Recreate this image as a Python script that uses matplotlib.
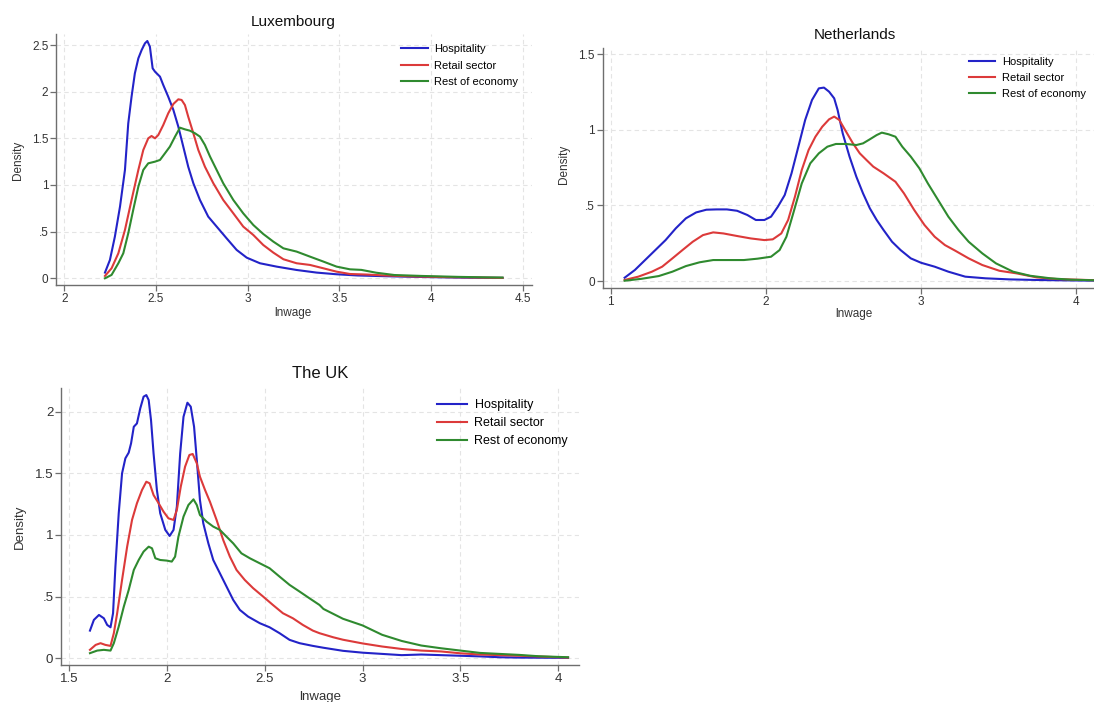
import matplotlib
matplotlib.use("Agg")
import matplotlib.pyplot as plt

plt.rcParams["font.family"] = ["Liberation Sans", "DejaVu Sans"]

# ---- Luxembourg: kernel density of log wage by sector ----
lux_hosp_x = [2.222, 2.249, 2.276, 2.304, 2.331, 2.349, 2.367, 2.385, 2.404, 2.422, 2.440, 2.453,
              2.467, 2.482, 2.495, 2.522, 2.540, 2.567, 2.595, 2.622, 2.649, 2.676, 2.704, 2.740,
              2.785, 2.831, 2.885, 2.940, 2.995, 3.067, 3.158, 3.267, 3.376, 3.485, 3.6, 3.7,
              3.8, 4.0, 4.2, 4.39]
lux_hosp_y = [0.061, 0.196, 0.446, 0.768, 1.161, 1.66, 1.946, 2.196, 2.357, 2.446, 2.518, 2.543,
              2.482, 2.25, 2.214, 2.161, 2.071, 1.946, 1.804, 1.625, 1.411, 1.196, 1.018, 0.839,
              0.661, 0.554, 0.429, 0.304, 0.221, 0.161, 0.125, 0.089, 0.061, 0.043, 0.03, 0.025,
              0.02, 0.012, 0.006, 0.004]
lux_retail_x = [2.222, 2.258, 2.295, 2.331, 2.367, 2.404, 2.431, 2.458, 2.476, 2.495, 2.513, 2.540,
                2.567, 2.595, 2.622, 2.640, 2.658, 2.676, 2.704, 2.731, 2.767, 2.813, 2.867, 2.922,
                2.976, 3.031, 3.085, 3.140, 3.195, 3.267, 3.340, 3.413, 3.485, 3.558, 3.65, 3.75,
                3.9, 4.1, 4.25, 4.39]
lux_retail_y = [0.025, 0.107, 0.268, 0.518, 0.839, 1.161, 1.375, 1.5, 1.525, 1.5, 1.536, 1.643,
                1.768, 1.868, 1.918, 1.911, 1.857, 1.732, 1.554, 1.375, 1.196, 1.018, 0.839, 0.696,
                0.554, 0.464, 0.357, 0.275, 0.204, 0.161, 0.143, 0.107, 0.071, 0.046, 0.04, 0.03,
                0.02, 0.012, 0.008, 0.004]
lux_rest_x = [2.222, 2.258, 2.295, 2.322, 2.349, 2.376, 2.404, 2.431, 2.458, 2.495, 2.522, 2.549,
              2.576, 2.604, 2.631, 2.658, 2.685, 2.713, 2.740, 2.767, 2.795, 2.831, 2.867, 2.922,
              2.976, 3.031, 3.085, 3.140, 3.195, 3.267, 3.340, 3.413, 3.485, 3.558, 3.62, 3.7,
              3.8, 3.95, 4.15, 4.3, 4.39]
lux_rest_y = [0.0, 0.036, 0.161, 0.268, 0.482, 0.732, 0.982, 1.161, 1.232, 1.25, 1.268, 1.339,
              1.411, 1.518, 1.614, 1.596, 1.582, 1.554, 1.518, 1.429, 1.304, 1.161, 1.018, 0.839,
              0.696, 0.571, 0.475, 0.393, 0.321, 0.286, 0.232, 0.179, 0.125, 0.096, 0.09, 0.06,
              0.035, 0.025, 0.015, 0.01, 0.008]

# ---- Netherlands ----
nl_hosp_x = [1.090, 1.156, 1.222, 1.288, 1.354, 1.420, 1.485, 1.551, 1.617, 1.683, 1.749, 1.815,
             1.881, 1.936, 1.991, 2.034, 2.078, 2.122, 2.166, 2.210, 2.254, 2.298, 2.342, 2.375,
             2.408, 2.441, 2.463, 2.496, 2.540, 2.584, 2.627, 2.671, 2.715, 2.759, 2.814, 2.869,
             2.935, 3.001, 3.089, 3.177, 3.286, 3.418, 3.572, 3.748, 3.967, 4.2]
nl_hosp_y = [0.022, 0.073, 0.139, 0.205, 0.271, 0.349, 0.415, 0.454, 0.472, 0.474, 0.474, 0.465,
             0.437, 0.404, 0.404, 0.426, 0.492, 0.569, 0.713, 0.889, 1.066, 1.198, 1.275, 1.28,
             1.253, 1.209, 1.132, 0.977, 0.823, 0.690, 0.580, 0.481, 0.404, 0.338, 0.260, 0.205,
             0.150, 0.121, 0.095, 0.062, 0.029, 0.018, 0.011, 0.007, 0.004, 0.002]
nl_retail_x = [1.090, 1.178, 1.266, 1.332, 1.398, 1.463, 1.529, 1.595, 1.661, 1.727, 1.815, 1.903,
               1.991, 2.045, 2.100, 2.144, 2.188, 2.232, 2.276, 2.320, 2.364, 2.408, 2.441, 2.474,
               2.518, 2.562, 2.606, 2.649, 2.693, 2.759, 2.836, 2.891, 2.957, 3.023, 3.089, 3.155,
               3.221, 3.308, 3.396, 3.506, 3.616, 3.748, 3.879, 4.2]
nl_retail_y = [0.007, 0.029, 0.062, 0.095, 0.150, 0.205, 0.260, 0.304, 0.322, 0.315, 0.298, 0.282,
               0.271, 0.276, 0.315, 0.404, 0.558, 0.735, 0.867, 0.955, 1.021, 1.070, 1.088, 1.066,
               0.988, 0.911, 0.845, 0.801, 0.757, 0.713, 0.657, 0.580, 0.470, 0.371, 0.293, 0.238,
               0.201, 0.150, 0.106, 0.068, 0.051, 0.024, 0.013, 0.003]
nl_rest_x = [1.090, 1.200, 1.310, 1.398, 1.485, 1.573, 1.661, 1.771, 1.859, 1.947, 2.034, 2.089,
             2.133, 2.177, 2.232, 2.287, 2.342, 2.397, 2.452, 2.518, 2.584, 2.627, 2.671, 2.715,
             2.748, 2.792, 2.836, 2.880, 2.935, 2.990, 3.045, 3.111, 3.177, 3.242, 3.308, 3.396,
             3.484, 3.594, 3.704, 3.836, 3.967, 4.2]
nl_rest_y = [0.002, 0.015, 0.033, 0.062, 0.099, 0.124, 0.139, 0.139, 0.139, 0.148, 0.161, 0.205,
             0.293, 0.448, 0.646, 0.779, 0.845, 0.889, 0.907, 0.907, 0.900, 0.911, 0.938, 0.966,
             0.982, 0.971, 0.955, 0.889, 0.823, 0.746, 0.646, 0.536, 0.426, 0.338, 0.260, 0.183,
             0.117, 0.062, 0.035, 0.018, 0.009, 0.003]

# ---- The UK ----
uk_hosp_x = [1.607, 1.627, 1.653, 1.678, 1.695, 1.712, 1.725, 1.737, 1.754, 1.771, 1.788, 1.805,
             1.817, 1.831, 1.847, 1.864, 1.881, 1.895, 1.907, 1.919, 1.932, 1.949, 1.966, 1.992,
             2.014, 2.034, 2.051, 2.068, 2.085, 2.105, 2.122, 2.139, 2.153, 2.169, 2.186, 2.212,
             2.237, 2.271, 2.305, 2.339, 2.373, 2.415, 2.475, 2.525, 2.576, 2.627, 2.678, 2.746,
             2.8, 2.9, 3.0, 3.1, 3.2, 3.3, 3.4, 3.5, 3.6, 3.7, 3.8, 4.05]
uk_hosp_y = [0.224, 0.311, 0.351, 0.324, 0.27, 0.251, 0.365, 0.743, 1.176, 1.5, 1.622, 1.668,
             1.743, 1.878, 1.905, 2.027, 2.122, 2.135, 2.095, 1.932, 1.662, 1.365, 1.176, 1.041,
             0.992, 1.041, 1.23, 1.662, 1.959, 2.073, 2.041, 1.878, 1.608, 1.284, 1.095, 0.932,
             0.797, 0.689, 0.581, 0.473, 0.392, 0.338, 0.284, 0.251, 0.203, 0.149, 0.122, 0.1,
             0.085, 0.06, 0.045, 0.035, 0.025, 0.03, 0.025, 0.02, 0.015, 0.008, 0.005, 0.003]
uk_retail_x = [1.607, 1.636, 1.661, 1.686, 1.712, 1.729, 1.746, 1.771, 1.797, 1.822, 1.847, 1.873,
               1.895, 1.912, 1.932, 1.958, 1.983, 2.008, 2.034, 2.051, 2.071, 2.093, 2.115, 2.132,
               2.153, 2.169, 2.195, 2.220, 2.254, 2.288, 2.322, 2.356, 2.398, 2.441, 2.492, 2.542,
               2.593, 2.644, 2.695, 2.746, 2.780, 2.85, 2.9, 3.0, 3.1, 3.2, 3.3, 3.4, 3.5, 3.6,
               3.8, 4.05]
uk_retail_y = [0.068, 0.108, 0.122, 0.108, 0.1, 0.203, 0.365, 0.635, 0.905, 1.122, 1.257, 1.365,
               1.432, 1.419, 1.324, 1.257, 1.189, 1.135, 1.122, 1.203, 1.392, 1.554, 1.649, 1.657,
               1.581, 1.473, 1.365, 1.27, 1.122, 0.959, 0.824, 0.716, 0.635, 0.568, 0.5, 0.432,
               0.365, 0.324, 0.27, 0.224, 0.203, 0.17, 0.15, 0.12, 0.095, 0.075, 0.062, 0.055,
               0.04, 0.03, 0.02, 0.005]
uk_rest_x = [1.607, 1.644, 1.678, 1.712, 1.729, 1.754, 1.780, 1.805, 1.831, 1.856, 1.881, 1.907,
             1.924, 1.941, 1.966, 2.000, 2.025, 2.042, 2.059, 2.085, 2.110, 2.136, 2.153, 2.169,
             2.203, 2.237, 2.271, 2.305, 2.339, 2.381, 2.424, 2.475, 2.525, 2.576, 2.627, 2.678,
             2.729, 2.780, 2.8, 2.9, 3.0, 3.1, 3.2, 3.3, 3.4, 3.5, 3.6, 3.7, 3.8, 3.9, 4.05]
uk_rest_y = [0.041, 0.062, 0.068, 0.062, 0.122, 0.257, 0.419, 0.554, 0.716, 0.797, 0.865, 0.905,
             0.892, 0.811, 0.797, 0.792, 0.784, 0.824, 0.986, 1.149, 1.243, 1.289, 1.243, 1.162,
             1.108, 1.068, 1.041, 0.986, 0.932, 0.851, 0.811, 0.770, 0.730, 0.662, 0.595, 0.541,
             0.486, 0.432, 0.40, 0.32, 0.266, 0.19, 0.14, 0.103, 0.081, 0.062, 0.043, 0.035,
             0.027, 0.016, 0.008]

SERIES = ["Hospitality", "Retail sector", "Rest of economy"]
COLORS = ["#2323c8", "#dc3a3a", "#2f8a2f"]

W, H = 1094, 702
fig = plt.figure(figsize=(W / 100, H / 100), dpi=100)


def frac(x, y):
    # pixel position (from top-left) -> figure fraction
    return x / W, 1 - y / H


def panel(box, xlim, ylim, xticks, xticklabels, yticks, yticklabels, curves,
          title, title_xy, title_size, ylab_xy, xlab_xy, leg_xy, fsize, leg_size, leg_spacing):
    left, top, right, bottom = box
    ax = fig.add_axes([left / W, 1 - bottom / H, (right - left) / W, (bottom - top) / H])
    for (xs, ys), c, name in zip(curves, COLORS, SERIES):
        ax.plot(xs, ys, color=c, lw=1.5, label=name)
    ax.set_xlim(*xlim)
    ax.set_ylim(*ylim)
    ax.set_xticks(xticks)
    ax.set_xticklabels(xticklabels)
    ax.set_yticks(yticks)
    ax.set_yticklabels(yticklabels)
    for s in ("top", "right"):
        ax.spines[s].set_visible(False)
    for s in ("left", "bottom"):
        ax.spines[s].set_color("#6e6e6e")
        ax.spines[s].set_linewidth(1.0)
    ax.tick_params(length=4, width=0.9, color="#6e6e6e", labelsize=fsize, labelcolor="#333333")
    ax.tick_params(axis="y", pad=1.5)
    ax.tick_params(axis="x", pad=2)
    ax.grid(True, ls=(0, (4, 3)), color="#e4e4e4", lw=0.8)
    ax.set_axisbelow(True)

    fig.text(*frac(*title_xy), title, ha="center", va="center", fontsize=title_size, color="#111111")
    fig.text(*frac(*ylab_xy), "Density", ha="center", va="center", rotation=90,
             fontsize=fsize, color="#333333")
    fig.text(*frac(*xlab_xy), "lnwage", ha="center", va="center", fontsize=fsize, color="#333333")

    ax.legend(loc="upper left", bbox_to_anchor=frac(*leg_xy), bbox_transform=fig.transFigure,
              frameon=False, fontsize=leg_size, handlelength=2.4, handletextpad=0.6,
              labelspacing=leg_spacing, borderpad=0, borderaxespad=0)
    return ax


panel((56, 34, 531.7, 285), (1.955, 4.549), (-0.072, 2.618),
      [2, 2.5, 3, 3.5, 4, 4.5], ["2", "2.5", "3", "3.5", "4", "4.5"],
      [0, 0.5, 1, 1.5, 2, 2.5], ["0", ".5", "1", "1.5", "2", "2.5"],
      [(lux_hosp_x, lux_hosp_y), (lux_retail_x, lux_retail_y), (lux_rest_x, lux_rest_y)],
      "Luxembourg", (293.4, 21.7), 11, (18, 160), (293, 312.7), (401, 44.3), 8.5, 8, 0.58)

panel((602.6, 48.3, 1094, 288), (0.948, 4.116), (-0.046, 1.54),
      [1, 2, 3, 4], ["1", "2", "3", "4"],
      [0, 0.5, 1, 1.5], ["0", ".5", "1", "1.5"],
      [(nl_hosp_x, nl_hosp_y), (nl_retail_x, nl_retail_y), (nl_rest_x, nl_rest_y)],
      "Netherlands", (854.6, 35), 11, (564, 164), (854, 314.3), (968.7, 57.2), 8.5, 8, 0.51)

panel((61, 388.3, 579, 665), (1.459, 4.106), (-0.055, 2.19),
      [1.5, 2, 2.5, 3, 3.5, 4], ["1.5", "2", "2.5", "3", "3.5", "4"],
      [0, 0.5, 1, 1.5, 2], ["0", ".5", "1", "1.5", "2"],
      [(uk_hosp_x, uk_hosp_y), (uk_retail_x, uk_retail_y), (uk_rest_x, uk_rest_y)],
      "The UK", (319.8, 373.3), 12, (19.6, 526.7), (320, 697), (437, 399.2), 9.5, 9, 0.47)

fig.savefig("out.png", dpi=100, facecolor="white")
